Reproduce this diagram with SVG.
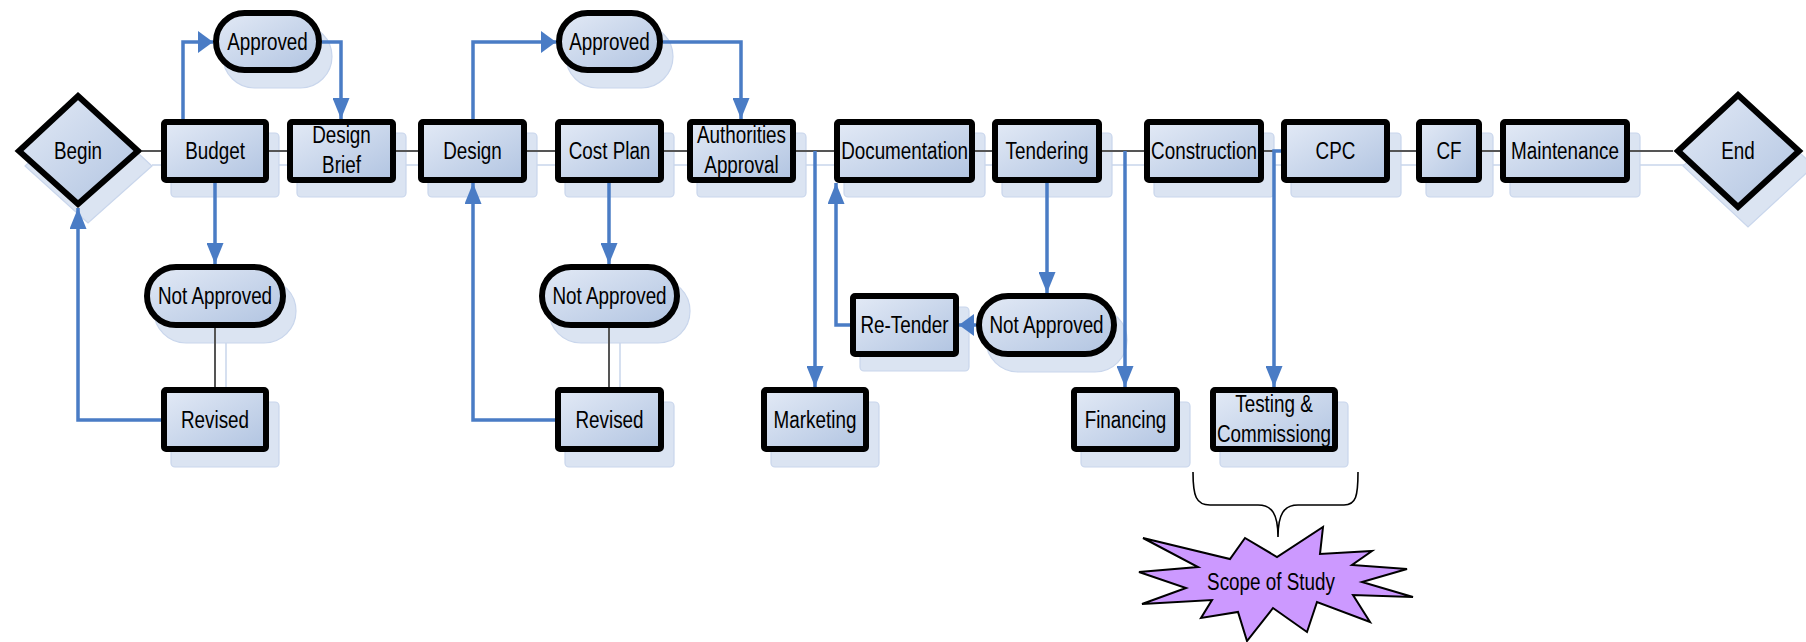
<svg xmlns="http://www.w3.org/2000/svg" width="1806" height="642" viewBox="0 0 1806 642">
  <defs>
    <linearGradient id="boxFill" x1="0" y1="0" x2="1" y2="1">
      <stop offset="0" stop-color="#e3eaf6"/>
      <stop offset="1" stop-color="#b1c4e1"/>
    </linearGradient>
    <marker id="arrH" markerUnits="userSpaceOnUse" viewBox="0 0 15 22" refX="15" refY="11" markerWidth="15" markerHeight="22" orient="auto">
      <path d="M0,0 L15,11 L0,22 Z" fill="#4a7cc5"/>
    </marker>
    <marker id="arrV" markerUnits="userSpaceOnUse" viewBox="0 0 21 17" refX="21" refY="8.5" markerWidth="21" markerHeight="17" orient="auto">
      <path d="M0,0 L21,8.5 L0,17 Z" fill="#4a7cc5"/>
    </marker>
    <style>
      .shadow { fill: #dbe4f2; stroke: #c9d6ec; stroke-width: 1.2; }
      .shline { fill: none; stroke: #c9d6ec; stroke-width: 1.5; }
      .box { fill: url(#boxFill); stroke: #000; stroke-width: 6; }
      .link { fill: none; stroke: #555; stroke-width: 2; }
      .flow { fill: none; stroke: #4a7cc5; stroke-width: 3.5; }
      .fh { marker-end: url(#arrH); }
      .fv { marker-end: url(#arrV); }
      text { font-family: "Liberation Sans", Arial, sans-serif; font-size: 23px; fill: #000; text-anchor: middle; }
      .burst { fill: #cc99ff; stroke: #000; stroke-width: 2; stroke-linejoin: miter; }
      .brace { fill: none; stroke: #000; stroke-width: 1.6; }
    </style>
  </defs>

  <!-- drop shadows of connectors and shapes -->
  <g id="shadows">
    <path class="shline" d="M152,165 H174 M279,165 H298 M406,165 H429 M537,165 H566 M674,165 H698 M806,165 H845 M985,165 H1003 M1112,165 H1155 M1274,165 H1292 M1400,165 H1427 M1492,165 H1511 M1640,165 H1684 M226,342 V401 M620,342 V401"/>
    <path class="shadow" d="M88,107 L152,166 L88,223 L25,166 Z"/>
    <path class="shadow" d="M1748,105 L1814,166 L1748,227 L1683,166 Z"/>
    <rect class="shadow" x="171" y="133" width="108" height="64" rx="4"/>
    <rect class="shadow" x="297" y="133" width="109" height="64" rx="4"/>
    <rect class="shadow" x="428" y="133" width="109" height="64" rx="4"/>
    <rect class="shadow" x="565" y="133" width="109" height="64" rx="4"/>
    <rect class="shadow" x="697" y="133" width="109" height="64" rx="4"/>
    <rect class="shadow" x="844" y="133" width="141" height="64" rx="4"/>
    <rect class="shadow" x="1002" y="133" width="110" height="64" rx="4"/>
    <rect class="shadow" x="1154" y="133" width="120" height="64" rx="4"/>
    <rect class="shadow" x="1291" y="133" width="110" height="64" rx="4"/>
    <rect class="shadow" x="1426" y="133" width="67" height="64" rx="4"/>
    <rect class="shadow" x="1510" y="133" width="130" height="64" rx="4"/>
    <rect class="shadow" x="223" y="25" width="109" height="63" rx="31.5"/>
    <rect class="shadow" x="566" y="25" width="107" height="63" rx="31.5"/>
    <rect class="shadow" x="154" y="279" width="142" height="64" rx="32"/>
    <rect class="shadow" x="549" y="279" width="141" height="64" rx="32"/>
    <rect class="shadow" x="986" y="308" width="141" height="64" rx="32"/>
    <rect class="shadow" x="860" y="307" width="109" height="64" rx="4"/>
    <rect class="shadow" x="171" y="402" width="108" height="65" rx="4"/>
    <rect class="shadow" x="565" y="402" width="109" height="65" rx="4"/>
    <rect class="shadow" x="771" y="402" width="108" height="65" rx="4"/>
    <rect class="shadow" x="1081" y="402" width="109" height="65" rx="4"/>
    <rect class="shadow" x="1220" y="402" width="128" height="65" rx="4"/>
  </g>

  <g id="connectors">
    <!-- main sequence -->
    <path class="link" d="M142,151 H161 M269,151 H287 M396,151 H418 M527,151 H555 M664,151 H687 M796,151 H834 M975,151 H992 M1102,151 H1144 M1264,151 H1281 M1390,151 H1416 M1482,151 H1500 M1630,151 H1673"/>
    <path class="link" d="M215,328 V387 M609,328 V387"/>
    <!-- decision branches -->
    <path class="flow fh" d="M183,119 V42 H213"/>
    <path class="flow fv" d="M322,42 H341 V119"/>
    <path class="flow fv" d="M215,183 V264"/>
    <path class="flow fv" d="M161,420 H78 V208"/>
    <path class="flow fh" d="M473,119 V42 H556"/>
    <path class="flow fv" d="M663,42 H741 V119"/>
    <path class="flow fv" d="M609,183 V264"/>
    <path class="flow fv" d="M555,420 H473 V183"/>
    <path class="flow fv" d="M815,151 V387"/>
    <path class="flow fv" d="M850,325 H836 V183"/>
    <path class="flow fv" d="M1047,183 V293"/>
    <path class="flow fh" d="M976,325 H959"/>
    <path class="flow fv" d="M1125,151 V387"/>
    <path class="flow fv" d="M1283,151 H1274 V387"/>
  </g>

  <g id="node-begin">
    <path class="box" d="M78,96 L138,151 L78,204 L19,151 Z"/>
    <text transform="translate(78,159) scale(0.82,1)">Begin</text>
  </g>
  <g id="node-budget">
    <rect class="box" x="164" y="122" width="102" height="58" rx="2"/>
    <text transform="translate(215,158.5) scale(0.82,1)">Budget</text>
  </g>
  <g id="node-approved-1">
    <rect class="box" x="216" y="13" width="103" height="57" rx="28.5"/>
    <text transform="translate(267.5,49.5) scale(0.82,1)">Approved</text>
  </g>
  <g id="node-design-brief">
    <rect class="box" x="290" y="122" width="103" height="58" rx="2"/>
    <text transform="translate(341.5,143) scale(0.82,1)">Design</text>
    <text transform="translate(341.5,173) scale(0.82,1)">Brief</text>
  </g>
  <g id="node-not-approved-1">
    <rect class="box" x="147" y="267" width="136" height="58" rx="29"/>
    <text transform="translate(215,304) scale(0.82,1)">Not Approved</text>
  </g>
  <g id="node-revised-1">
    <rect class="box" x="164" y="390" width="102" height="59" rx="2"/>
    <text transform="translate(215,427.5) scale(0.82,1)">Revised</text>
  </g>
  <g id="node-design">
    <rect class="box" x="421" y="122" width="103" height="58" rx="2"/>
    <text transform="translate(472.5,158.5) scale(0.82,1)">Design</text>
  </g>
  <g id="node-approved-2">
    <rect class="box" x="559" y="13" width="101" height="57" rx="28.5"/>
    <text transform="translate(609.5,49.5) scale(0.82,1)">Approved</text>
  </g>
  <g id="node-cost-plan">
    <rect class="box" x="558" y="122" width="103" height="58" rx="2"/>
    <text transform="translate(609.5,158.5) scale(0.82,1)">Cost Plan</text>
  </g>
  <g id="node-not-approved-2">
    <rect class="box" x="542" y="267" width="135" height="58" rx="29"/>
    <text transform="translate(609.5,304) scale(0.82,1)">Not Approved</text>
  </g>
  <g id="node-revised-2">
    <rect class="box" x="558" y="390" width="103" height="59" rx="2"/>
    <text transform="translate(609.5,427.5) scale(0.82,1)">Revised</text>
  </g>
  <g id="node-authorities-approval">
    <rect class="box" x="690" y="122" width="103" height="58" rx="2"/>
    <text transform="translate(741.5,143) scale(0.82,1)">Authorities</text>
    <text transform="translate(741.5,173) scale(0.82,1)">Approval</text>
  </g>
  <g id="node-marketing">
    <rect class="box" x="764" y="390" width="102" height="59" rx="2"/>
    <text transform="translate(815,427.5) scale(0.82,1)">Marketing</text>
  </g>
  <g id="node-documentation">
    <rect class="box" x="837" y="122" width="135" height="58" rx="2"/>
    <text transform="translate(904.5,158.5) scale(0.82,1)">Documentation</text>
  </g>
  <g id="node-re-tender">
    <rect class="box" x="853" y="296" width="103" height="58" rx="2"/>
    <text transform="translate(904.5,333) scale(0.82,1)">Re-Tender</text>
  </g>
  <g id="node-tendering">
    <rect class="box" x="995" y="122" width="104" height="58" rx="2"/>
    <text transform="translate(1047,158.5) scale(0.82,1)">Tendering</text>
  </g>
  <g id="node-not-approved-3">
    <rect class="box" x="979" y="296" width="135" height="58" rx="29"/>
    <text transform="translate(1046.5,333) scale(0.82,1)">Not Approved</text>
  </g>
  <g id="node-financing">
    <rect class="box" x="1074" y="390" width="103" height="59" rx="2"/>
    <text transform="translate(1125.5,427.5) scale(0.82,1)">Financing</text>
  </g>
  <g id="node-construction">
    <rect class="box" x="1147" y="122" width="114" height="58" rx="2"/>
    <text transform="translate(1204,158.5) scale(0.82,1)">Construction</text>
  </g>
  <g id="node-testing">
    <rect class="box" x="1213" y="390" width="122" height="59" rx="2"/>
    <text transform="translate(1274,412) scale(0.82,1)">Testing &amp;</text>
    <text transform="translate(1274,442) scale(0.82,1)">Commissiong</text>
  </g>
  <g id="node-cpc">
    <rect class="box" x="1284" y="122" width="103" height="58" rx="2"/>
    <text transform="translate(1335.5,158.5) scale(0.82,1)">CPC</text>
  </g>
  <g id="node-cf">
    <rect class="box" x="1419" y="122" width="60" height="58" rx="2"/>
    <text transform="translate(1449,158.5) scale(0.82,1)">CF</text>
  </g>
  <g id="node-maintenance">
    <rect class="box" x="1503" y="122" width="124" height="58" rx="2"/>
    <text transform="translate(1565,158.5) scale(0.82,1)">Maintenance</text>
  </g>
  <g id="node-end">
    <path class="box" d="M1738,95 L1799,151 L1738,207 L1678,151 Z"/>
    <text transform="translate(1738,159) scale(0.82,1)">End</text>
  </g>

  <g id="scope-brace">
    <path class="brace" d="M1193,472 C1193,496 1196,505 1210,505 L1258,505 C1272,505 1278,514 1278,537 C1278,514 1284,505 1298,505 L1344,505 C1356,505 1358,496 1358,472"/>
  </g>
  <g id="node-scope">
    <path class="burst" d="M1143,538 L1230,559 L1245,538 L1277,557 L1323,527 L1320,554 L1372,551 L1352,565 L1407,569 L1362,582 L1413,597 L1353,595 L1370,622 L1317,602 L1307,632 L1273,608 L1247,641 L1238,612 L1201,618 L1212,600 L1142,604 L1186,588 L1139,572 L1198,567 Z"/>
    <text transform="translate(1271,590) scale(0.82,1)">Scope of Study</text>
  </g>
</svg>
